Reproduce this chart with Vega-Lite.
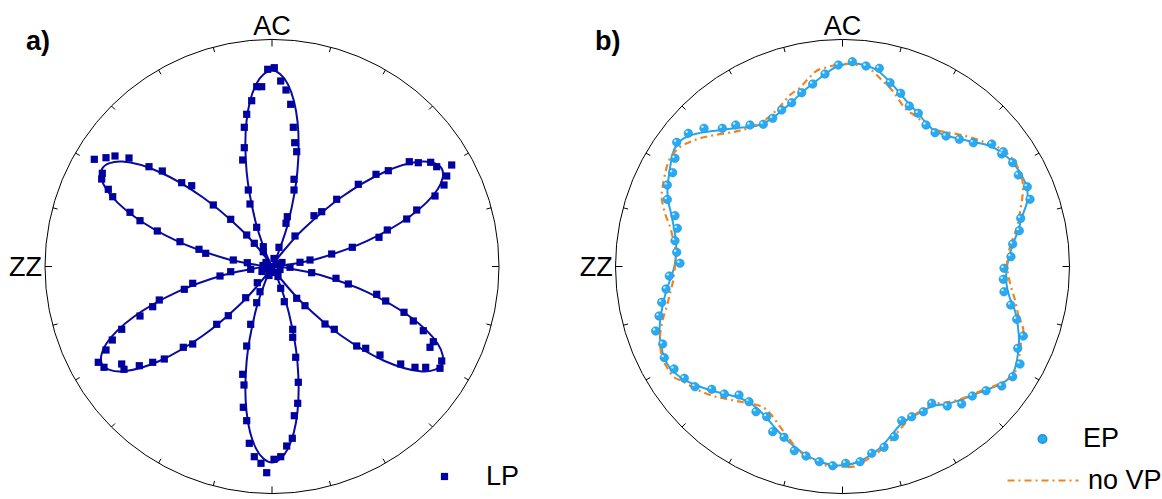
{
"$schema": "https://vega.github.io/schema/vega-lite/v6.json",
"padding": 0,
"bounds": "flush",
"spacing": 0,
"config": {"view": {"stroke": null}, "axis": {"disable": true}, "legend": {"labelFont": "Liberation Sans", "labelFontSize": 27, "labelColor": "#000", "labelLimit": 300}},
"datasets": {
"ticks": [
{"x":227,"y":0,"x2":220,"y2":0},{"x":219.27,"y":58.75,"x2":214.43,"y2":57.46},{"x":196.59,"y":113.5,"x2":192.26,"y2":111},{"x":160.51,"y":160.51,"x2":156.98,"y2":156.98},{"x":113.5,"y":196.59,"x2":111,"y2":192.26},{"x":58.75,"y":219.27,"x2":57.46,"y2":214.43},
{"x":0,"y":227,"x2":0,"y2":220},{"x":-58.75,"y":219.27,"x2":-57.46,"y2":214.43},{"x":-113.5,"y":196.59,"x2":-111,"y2":192.26},{"x":-160.51,"y":160.51,"x2":-156.98,"y2":156.98},{"x":-196.59,"y":113.5,"x2":-192.26,"y2":111},{"x":-219.27,"y":58.75,"x2":-214.43,"y2":57.46},
{"x":-227,"y":0,"x2":-220,"y2":0},{"x":-219.27,"y":-58.75,"x2":-214.43,"y2":-57.46},{"x":-196.59,"y":-113.5,"x2":-192.26,"y2":-111},{"x":-160.51,"y":-160.51,"x2":-156.98,"y2":-156.98},{"x":-113.5,"y":-196.59,"x2":-111,"y2":-192.26},{"x":-58.75,"y":-219.27,"x2":-57.46,"y2":-214.43},
{"x":0,"y":-227,"x2":0,"y2":-220},{"x":58.75,"y":-219.27,"x2":57.46,"y2":-214.43},{"x":113.5,"y":-196.59,"x2":111,"y2":-192.26},{"x":160.51,"y":-160.51,"x2":156.98,"y2":-156.98},{"x":196.59,"y":-113.5,"x2":192.26,"y2":-111},{"x":219.27,"y":-58.75,"x2":214.43,"y2":-57.46}
],
"roseFit": [
{"x":0,"y":0},{"x":13.08,"y":1.14},{"x":48.26,"y":8.51},{"x":94.66,"y":25.36},{"x":138.14,"y":50.27},{"x":165.74,"y":77.28},{"x":169.74,"y":98},{"x":149.81,"y":104.89},{"x":112.6,"y":94.49},{"x":69.3,"y":69.3},{"x":31.5,"y":37.53},{"x":7.53,"y":10.76},
{"x":0,"y":0},{"x":5.55,"y":11.9},{"x":16.76,"y":46.05},{"x":25.36,"y":94.66},{"x":25.52,"y":144.77},{"x":15.95,"y":182.17},{"x":0,"y":196},{"x":-15.95,"y":182.17},{"x":-25.52,"y":144.77},{"x":-25.36,"y":94.66},{"x":-16.76,"y":46.05},{"x":-5.55,"y":11.9},
{"x":0,"y":0},{"x":-7.53,"y":10.76},{"x":-31.5,"y":37.53},{"x":-69.3,"y":69.3},{"x":-112.6,"y":94.49},{"x":-149.81,"y":104.89},{"x":-169.74,"y":98},{"x":-165.74,"y":77.28},{"x":-138.14,"y":50.27},{"x":-94.66,"y":25.36},{"x":-48.26,"y":8.51},{"x":-13.08,"y":1.14},
{"x":0,"y":0},{"x":-13.08,"y":-1.14},{"x":-48.26,"y":-8.51},{"x":-94.66,"y":-25.36},{"x":-138.14,"y":-50.27},{"x":-165.74,"y":-77.28},{"x":-169.74,"y":-98},{"x":-149.81,"y":-104.89},{"x":-112.6,"y":-94.49},{"x":-69.3,"y":-69.3},{"x":-31.5,"y":-37.53},{"x":-7.53,"y":-10.76},
{"x":0,"y":0},{"x":-5.55,"y":-11.9},{"x":-16.76,"y":-46.05},{"x":-25.36,"y":-94.66},{"x":-25.52,"y":-144.77},{"x":-15.95,"y":-182.17},{"x":0,"y":-196},{"x":15.95,"y":-182.17},{"x":25.52,"y":-144.77},{"x":25.36,"y":-94.66},{"x":16.76,"y":-46.05},{"x":5.55,"y":-11.9},
{"x":0,"y":0},{"x":7.53,"y":-10.76},{"x":31.5,"y":-37.53},{"x":69.3,"y":-69.3},{"x":112.6,"y":-94.49},{"x":149.81,"y":-104.89},{"x":169.74,"y":-98},{"x":165.74,"y":-77.28},{"x":138.14,"y":-50.27},{"x":94.66,"y":-25.36},{"x":48.26,"y":-8.51},{"x":13.08,"y":-1.14}
],
"rosePts": [
{"x":2.3,"y":198.8},{"x":-4.3,"y":197.2},{"x":-15.3,"y":179.8},{"x":-10.3,"y":179.8},{"x":-20.3,"y":165.8},{"x":-25.3,"y":152.2},{"x":-27.7,"y":139.2},{"x":-27.7,"y":118.8},{"x":-29.3,"y":106.5},{"x":-23.7,"y":76.5},{"x":-22,"y":62.5},{"x":-15.3,"y":39.2},{"x":-8.7,"y":19.8},{"x":8.7,"y":185.5},{"x":14,"y":176.5},{"x":18.7,"y":162.2},{"x":21.3,"y":139.2},{"x":22.7,"y":123.8},{"x":24.7,"y":114.8},{"x":22,"y":87.2},{"x":22,"y":76.5},{"x":15.3,"y":49.8},{"x":14,"y":43.2},{"x":7,"y":19.2},
{"x":-177.7,"y":107.2},{"x":-166,"y":108.8},{"x":-157,"y":110.5},{"x":-143,"y":108.5},{"x":-123,"y":99.8},{"x":-109.7,"y":95.5},{"x":-90.3,"y":83.8},{"x":-80.3,"y":80.8},{"x":-58.7,"y":61.5},{"x":-41.3,"y":47.2},{"x":-25.3,"y":31.5},{"x":-17.7,"y":23.2},{"x":-8.7,"y":14.8},{"x":-169.7,"y":93.2},{"x":-170.3,"y":87.5},{"x":-163.7,"y":77.2},{"x":-159.3,"y":69.8},{"x":-142,"y":54.2},{"x":-132,"y":45.8},{"x":-114.7,"y":35.5},{"x":-92,"y":24.8},{"x":-73,"y":17.2},{"x":-66.3,"y":13.2},{"x":-38.7,"y":6.5},{"x":-24.7,"y":3.8},
{"x":-52,"y":-9.5},{"x":-79.3,"y":-16.8},{"x":-87.7,"y":-22.8},{"x":-112.7,"y":-33.5},{"x":-119.3,"y":-40.2},{"x":-132,"y":-49.5},{"x":-150.3,"y":-62.8},{"x":-159.7,"y":-73.5},{"x":-166,"y":-83.5},{"x":-173.7,"y":-95.8},{"x":-41.3,"y":-5.2},{"x":-21.3,"y":-2.8},{"x":-168,"y":-100.8},{"x":-150.3,"y":-97.5},{"x":-148,"y":-102.8},{"x":-132.7,"y":-99.2},{"x":-119.3,"y":-95.8},{"x":-107.7,"y":-92.5},{"x":-88.7,"y":-80.8},{"x":-79.3,"y":-77.5},{"x":-55.3,"y":-57.8},{"x":-43.7,"y":-49.2},{"x":-26.3,"y":-31.2},{"x":-14.7,"y":-16.2},
{"x":-12,"y":-25.2},{"x":-15.3,"y":-36.2},{"x":-21.3,"y":-57.8},{"x":-25.3,"y":-79.5},{"x":-29.3,"y":-107.8},{"x":-28,"y":-118.5},{"x":-28.7,"y":-140.8},{"x":-25.3,"y":-154.2},{"x":-22.7,"y":-176.8},{"x":-17.7,"y":-190.2},{"x":-11,"y":-196.8},{"x":-5.3,"y":-206.2},{"x":2,"y":-192.8},{"x":8.7,"y":-190.2},{"x":14.7,"y":-179.5},{"x":20.3,"y":-171.8},{"x":22.3,"y":-149.2},{"x":25.7,"y":-136.8},{"x":26.3,"y":-115.8},{"x":23.7,"y":-90.8},{"x":20.7,"y":-70.8},{"x":20.7,"y":-62.8},{"x":12.3,"y":-35.2},{"x":8.7,"y":-21.8},
{"x":18,"y":-0.8},{"x":39.7,"y":-6.2},{"x":64,"y":-11.8},{"x":76.3,"y":-17.5},{"x":104.7,"y":-27.8},{"x":113.7,"y":-34.5},{"x":132,"y":-45.8},{"x":141.3,"y":-54.5},{"x":151.3,"y":-64.2},{"x":161.3,"y":-75.2},{"x":158,"y":-80.8},{"x":169.7,"y":-94.5},{"x":168,"y":-101.8},{"x":153.7,"y":-100.8},{"x":143,"y":-100.8},{"x":128.7,"y":-97.5},{"x":108,"y":-88.5},{"x":93.7,"y":-81.8},{"x":84.7,"y":-79.5},{"x":62.3,"y":-62.8},{"x":53,"y":-57.5},{"x":33,"y":-39.2},{"x":24.7,"y":-31.8},
{"x":64.7,"y":67.2},{"x":49.7,"y":54.8},{"x":42,"y":50.8},{"x":23,"y":30.5},{"x":86.3,"y":82.2},{"x":104,"y":92.2},{"x":116.3,"y":95.8},{"x":137.3,"y":104.8},{"x":146.3,"y":103.8},{"x":158.7,"y":104.2},{"x":164.7,"y":99.8},{"x":179.7,"y":101.5},{"x":174.7,"y":90.5},{"x":172,"y":81.5},{"x":163,"y":70.5},{"x":144.7,"y":56.5},{"x":134.7,"y":47.5},{"x":115.3,"y":36.5},{"x":107,"y":29.2},{"x":80.3,"y":19.2},{"x":59.7,"y":12.5},{"x":38,"y":6.5},{"x":28,"y":4.2},
{"x":0,"y":0},{"x":4,"y":3},{"x":-4,"y":-2},{"x":2,"y":-6},{"x":-6,"y":4},{"x":8,"y":-3},{"x":-9,"y":1},{"x":2,"y":8},{"x":-3,"y":-9},{"x":10,"y":4},{"x":-10,"y":-5},{"x":6,"y":-10}
],
"epPts": [
{"x":9.8,"y":204.8},{"x":-4.2,"y":201.5},{"x":-17.5,"y":192.5},{"x":-29.8,"y":182.5},{"x":-40.8,"y":173.8},{"x":-50.8,"y":163.8},{"x":-60.8,"y":156.5},{"x":-69.8,"y":148.2},{"x":-79.2,"y":142.2},{"x":-92.5,"y":141.5},{"x":-106.8,"y":141.5},{"x":-120.2,"y":138.2},{"x":-138.5,"y":138.2},{"x":-154.2,"y":133.2},{"x":-165.8,"y":124.2},{"x":-167.5,"y":108.2},{"x":-169.8,"y":93.8},{"x":-175.2,"y":81.5},{"x":-175.2,"y":67},
{"x":23.5,"y":200.5},{"x":36.8,"y":198.2},{"x":47.5,"y":183.8},{"x":58.2,"y":173.2},{"x":66.8,"y":160.5},{"x":75.8,"y":153.2},{"x":83.5,"y":141.5},{"x":92.5,"y":133.8},{"x":103.5,"y":130.5},{"x":116.8,"y":127.2},{"x":130.8,"y":123.8},{"x":149.2,"y":122.5},{"x":159.2,"y":112.5},{"x":160.8,"y":114.8},{"x":170.2,"y":103.8},{"x":175.8,"y":91.5},{"x":184.8,"y":79.8},{"x":187.5,"y":67.2},
{"x":178.2,"y":48.2},{"x":176.8,"y":35.8},{"x":170.2,"y":22.5},{"x":168.5,"y":9.8},{"x":161.5,"y":-1.8},{"x":160.8,"y":-12.8},{"x":161.5,"y":-25.2},{"x":168.2,"y":-38.5},{"x":174.2,"y":-52.8},{"x":180.8,"y":-69.5},{"x":175.2,"y":-81.8},{"x":177.5,"y":-97.5},{"x":170.2,"y":-110.2},{"x":159.2,"y":-119.5},{"x":143.5,"y":-124.2},{"x":129.8,"y":-129.5},{"x":119.2,"y":-137.5},{"x":104.8,"y":-139.5},{"x":89.2,"y":-136.8},{"x":80.8,"y":-145.2},{"x":69.2,"y":-150.2},{"x":59.2,"y":-154.2},{"x":51.8,"y":-170.2},{"x":41.5,"y":-180.8},{"x":29.2,"y":-186.8},{"x":17.5,"y":-195.2},
{"x":3.2,"y":-196.8},{"x":-9.8,"y":-199.2},{"x":-23.2,"y":-195.2},{"x":-36.5,"y":-189.5},{"x":-48.2,"y":-184.2},{"x":-58.5,"y":-170.8},{"x":-69.8,"y":-165.2},{"x":-75.8,"y":-150.2},{"x":-86.5,"y":-145.2},{"x":-93.5,"y":-135.2},{"x":-103.5,"y":-128.5},{"x":-118.2,"y":-127.5},{"x":-130.8,"y":-122.8},{"x":-147.5,"y":-120.2},{"x":-158.2,"y":-111.8},{"x":-168.5,"y":-102.5},{"x":-178.2,"y":-91.2},{"x":-179.8,"y":-77.5},{"x":-186.8,"y":-64.5},{"x":-183.5,"y":-49.5},{"x":-180.8,"y":-35.8},{"x":-176.5,"y":-22.5},{"x":-173.2,"y":-9.5},{"x":-162.5,"y":3.2},{"x":-165.8,"y":14.2},{"x":-167.5,"y":25.8},{"x":-165.2,"y":38.2},{"x":-167.5,"y":50.8}
],
"epFit": [
{"x":10.5,"y":203},{"x":-4.5,"y":200.5},{"x":-16.5,"y":193},{"x":-29.5,"y":183},{"x":-40.5,"y":174},{"x":-50.5,"y":164.5},{"x":-60.5,"y":156},{"x":-70.5,"y":148},{"x":-80.5,"y":142.5},{"x":-92.5,"y":139.5},{"x":-106.5,"y":138.5},{"x":-120.5,"y":136.5},{"x":-137.5,"y":134.5},{"x":-152.5,"y":131},{"x":-162.5,"y":125.5},{"x":-168.5,"y":116.5},{"x":-171.5,"y":104.5},{"x":-173.5,"y":91.5},{"x":-175,"y":78.5},{"x":-174.5,"y":66.5},{"x":-171.5,"y":53.5},{"x":-168.5,"y":38.5},{"x":-166.5,"y":24.5},{"x":-166.5,"y":11.5},{"x":-168.5,"y":-1.5},{"x":-172.5,"y":-13.5},{"x":-176.5,"y":-25.5},{"x":-179.5,"y":-37.5},{"x":-182,"y":-51.5},{"x":-183,"y":-65.5},{"x":-181.5,"y":-78.5},{"x":-178.5,"y":-90.5},{"x":-172.5,"y":-101.5},{"x":-162.5,"y":-110.5},{"x":-148.5,"y":-118},{"x":-132.5,"y":-123.5},{"x":-117.5,"y":-127.5},{"x":-102.5,"y":-131.5},{"x":-89.5,"y":-138.5},{"x":-77.5,"y":-149.5},{"x":-66.5,"y":-162.5},{"x":-53.5,"y":-175.5},{"x":-39.5,"y":-186.5},{"x":-24.5,"y":-194.5},{"x":-10.5,"y":-198.5},{"x":3.5,"y":-198.5},{"x":15.5,"y":-195.5},{"x":26.5,"y":-189.5},{"x":37.5,"y":-181.5},{"x":47.5,"y":-170.5},{"x":57.5,"y":-158.5},{"x":67.5,"y":-151.5},{"x":79.5,"y":-145},{"x":90.5,"y":-139.5},{"x":104.5,"y":-137.5},{"x":117.5,"y":-133.5},{"x":130.5,"y":-128.5},{"x":147.5,"y":-122},{"x":160.5,"y":-116.5},{"x":170.5,"y":-106.5},{"x":174.5,"y":-93.5},{"x":176.5,"y":-76.5},{"x":175.5,"y":-60.5},{"x":172.5,"y":-44.5},{"x":167,"y":-30.5},{"x":164,"y":-17.5},{"x":164,"y":-3.5},{"x":166.5,"y":9.5},{"x":170.5,"y":22.5},{"x":175.5,"y":35.5},{"x":179.5,"y":49.5},{"x":184.5,"y":64.5},{"x":184.5,"y":78.5},{"x":179.5,"y":90.5},{"x":171.5,"y":102.5},{"x":160.5,"y":113},{"x":147.5,"y":120.5},{"x":131.5,"y":124.5},{"x":117.5,"y":127.5},{"x":103.5,"y":131},{"x":92.5,"y":135.5},{"x":83.5,"y":143.5},{"x":75.5,"y":153.5},{"x":66.5,"y":162.5},{"x":56.5,"y":174.5},{"x":46.5,"y":185.5},{"x":35.5,"y":195.5},{"x":23.5,"y":201}
],
"noVP": [
{"x":7.5,"y":202.5},{"x":-5.8,"y":201.5},{"x":-14.5,"y":199.5},{"x":-25.8,"y":195.8},{"x":-34.5,"y":187.5},{"x":-43.2,"y":178.2},{"x":-52.5,"y":171.5},{"x":-64.2,"y":158.2},{"x":-77.5,"y":146.5},{"x":-95.8,"y":138},{"x":-109.2,"y":134.5},{"x":-127.5,"y":131.5},{"x":-142.5,"y":128.2},{"x":-154.2,"y":123.8},{"x":-164.2,"y":118.2},{"x":-172.5,"y":108.2},{"x":-176.5,"y":96.5},{"x":-179.8,"y":79.8},{"x":-180.8,"y":68.5},{"x":-177.5,"y":53.2},{"x":-172.5,"y":39.8},{"x":-169.2,"y":26.5},{"x":-166.5,"y":13.2},{"x":-167.5,"y":-0.2},{"x":-169.2,"y":-13.5},{"x":-172.5,"y":-26.8},{"x":-175.8,"y":-40.2},{"x":-179.8,"y":-53.5},{"x":-182.5,"y":-70.2},{"x":-180.8,"y":-90.2},{"x":-175.8,"y":-100.2},{"x":-169.2,"y":-110.2},{"x":-159.2,"y":-115.2},{"x":-145.8,"y":-122.8},{"x":-132.5,"y":-128.5},{"x":-119.2,"y":-131.8},{"x":-102.5,"y":-135.2},{"x":-82.5,"y":-139.5},{"x":-72.5,"y":-146.8},{"x":-62.5,"y":-160.2},{"x":-52.5,"y":-173.5},{"x":-42.5,"y":-185.2},{"x":-29.2,"y":-193.5},{"x":-15.8,"y":-199.2},{"x":-2.5,"y":-200.2},{"x":10.8,"y":-200.2},{"x":20.8,"y":-195.2},{"x":34.2,"y":-186.8},{"x":45.8,"y":-176.8},{"x":54.2,"y":-166.8},{"x":65.8,"y":-153.5},{"x":79.2,"y":-143.5},{"x":90.8,"y":-137.5},{"x":104.2,"y":-135.8},{"x":117.5,"y":-132.8},{"x":132.5,"y":-126.8},{"x":147.5,"y":-121.2},{"x":159.2,"y":-116.2},{"x":170.8,"y":-108.5},{"x":175.8,"y":-95.2},{"x":178.2,"y":-78.5},{"x":180.8,"y":-63.5},{"x":175.8,"y":-48.5},{"x":172.5,"y":-33.5},{"x":167.5,"y":-16.5},{"x":164.5,"y":1.5},{"x":167.5,"y":19.8},{"x":174.2,"y":38.2},{"x":177.5,"y":54.8},{"x":180.2,"y":73.2},{"x":179.2,"y":89.5},{"x":170.8,"y":106.5},{"x":157.5,"y":118.2},{"x":140.8,"y":124.8},{"x":119.2,"y":131.5},{"x":100.8,"y":134.8},{"x":87.5,"y":138.2},{"x":74.2,"y":149.8},{"x":62.5,"y":158.2},{"x":50.8,"y":174.8},{"x":39.2,"y":186.5},{"x":25.8,"y":198.2}
]
},
"resolve": {"scale": {"x": "independent", "y": "independent", "color": "independent", "strokeDash": "independent"}, "legend": {"color": "independent", "strokeDash": "independent"}},
"hconcat": [
{
"width": 557, "height": 499,
"encoding": {
"x": {"field": "x", "type": "quantitative", "scale": {"domain": [-272, 285], "nice": false, "zero": false}, "axis": null},
"y": {"field": "y", "type": "quantitative", "scale": {"domain": [-232.5, 266.5], "nice": false, "zero": false}, "axis": null}
},
"layer": [
{"data": {"values": [{"x": 0, "y": 0}]}, "mark": {"type": "point", "shape": "circle", "size": 206116, "filled": false, "stroke": "#000", "strokeWidth": 1, "opacity": 1}},
{"data": {"name": "ticks"}, "mark": {"type": "rule", "color": "#000", "strokeWidth": 1}, "encoding": {"x2": {"field": "x2"}, "y2": {"field": "y2"}}},
{"data": {"name": "roseFit"}, "mark": {"type": "line", "interpolate": "cardinal-closed", "color": "#0a0a9e", "strokeWidth": 2}, "encoding": {"order": {"value": null}}},
{"data": {"name": "rosePts"}, "mark": {"type": "point", "shape": "square", "filled": true, "size": 52, "opacity": 1},
 "encoding": {"color": {"datum": "LP", "type": "nominal", "scale": {"domain": ["LP"], "range": ["#0000a0"]},
   "legend": {"title": null, "orient": "none", "legendX": 431, "legendY": 463, "symbolType": "square", "symbolSize": 52, "symbolOpacity": 1, "labelOffset": 28}}}},
{"data": {"values": [{"x": 0, "y": 231.5}]}, "mark": {"type": "text", "text": "AC", "font": "Liberation Sans", "fontSize": 27, "align": "center", "baseline": "alphabetic", "color": "#000"}},
{"data": {"values": [{"x": -230, "y": -9.5}]}, "mark": {"type": "text", "text": "ZZ", "font": "Liberation Sans", "fontSize": 27, "align": "right", "baseline": "alphabetic", "color": "#000"}},
{"data": {"values": [{"x": -246, "y": 216.5}]}, "mark": {"type": "text", "text": "a)", "font": "Liberation Sans", "fontWeight": "bold", "fontSize": 27, "align": "left", "baseline": "alphabetic", "color": "#000"}}
]
},
{
"width": 605, "height": 499,
"encoding": {
"x": {"field": "x", "type": "quantitative", "scale": {"domain": [-285.5, 319.5], "nice": false, "zero": false}, "axis": null},
"y": {"field": "y", "type": "quantitative", "scale": {"domain": [-232.5, 266.5], "nice": false, "zero": false}, "axis": null}
},
"layer": [
{"data": {"values": [{"x": 0, "y": 0}]}, "mark": {"type": "point", "shape": "circle", "size": 206116, "filled": false, "stroke": "#000", "strokeWidth": 1, "opacity": 1}},
{"data": {"name": "ticks"}, "mark": {"type": "rule", "color": "#000", "strokeWidth": 1}, "encoding": {"x2": {"field": "x2"}, "y2": {"field": "y2"}}},
{"data": {"name": "epFit"}, "mark": {"type": "line", "interpolate": "cardinal-closed", "color": "#22a6ee", "strokeWidth": 2}, "encoding": {"order": {"value": null}}},
{"data": {"name": "noVP"}, "mark": {"type": "line", "interpolate": "cardinal-closed", "color": "#f5821f", "strokeWidth": 2.2},
 "encoding": {"order": {"value": null}, "strokeDash": {"datum": "no VP", "type": "nominal", "scale": {"domain": ["no VP"], "range": [[7, 4, 2, 4]]},
   "legend": {"title": null, "orient": "none", "legendX": 449, "legendY": 443.5, "symbolType": "stroke", "symbolSize": 5041, "symbolStrokeColor": "#f5821f", "symbolStrokeWidth": 2.2, "labelOffset": 8}}}},
{"data": {"name": "epPts"}, "mark": {"type": "point", "shape": "circle", "filled": true, "size": 72, "opacity": 1, "stroke": "#1b93dc", "strokeWidth": 0.6},
 "encoding": {"color": {"datum": "EP", "type": "nominal", "scale": {"domain": ["EP"], "range": ["#2aaaf0"]},
   "legend": {"title": null, "orient": "none", "legendX": 472, "legendY": 425.5, "symbolType": "circle", "symbolSize": 72, "symbolOpacity": 1, "labelOffset": 27}}}},
{"data": {"name": "epPts"}, "mark": {"type": "point", "shape": "circle", "filled": true, "size": 6, "opacity": 1, "color": "#c4ecff", "xOffset": -1.6, "yOffset": -1.6}},
{"data": {"values": [{"x": 0, "y": 231.5}]}, "mark": {"type": "text", "text": "AC", "font": "Liberation Sans", "fontSize": 27, "align": "center", "baseline": "alphabetic", "color": "#000"}},
{"data": {"values": [{"x": -229.8, "y": -9.5}]}, "mark": {"type": "text", "text": "ZZ", "font": "Liberation Sans", "fontSize": 27, "align": "right", "baseline": "alphabetic", "color": "#000"}},
{"data": {"values": [{"x": -247.5, "y": 216.5}]}, "mark": {"type": "text", "text": "b)", "font": "Liberation Sans", "fontWeight": "bold", "fontSize": 27, "align": "left", "baseline": "alphabetic", "color": "#000"}}
]
}
]
}
